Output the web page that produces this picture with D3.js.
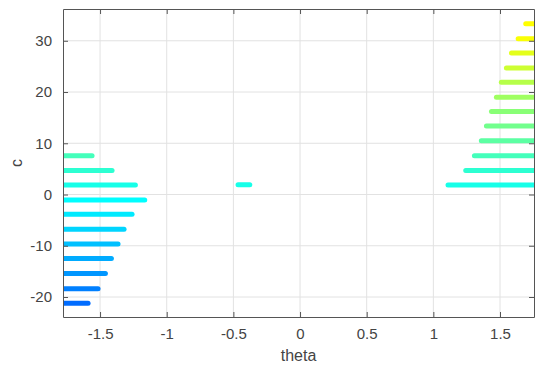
<!DOCTYPE html>
<html lang="en">
<head>
  <meta charset="UTF-8">
  <title>c vs theta</title>
  <script src="https://d3js.org/d3.v7.min.js"></script>
  <style>
    body { margin: 0; background: #fff; }
    svg { display: block; font-family: "Liberation Sans", Arial, sans-serif; }
    .grid line { stroke: #e2e2e2; stroke-width: 1; }
    .axis text { fill: #444; font-size: 15px; }
    .axis path, .axis line { stroke: #555; }
  </style>
</head>
<body>
<svg id="chart" width="536" height="367"></svg>
<script>
  // Values
  const xTicks = [-1.5, -1, -0.5, 0, 0.5, 1, 1.5];
  const yTicks = [-20, -10, 0, 10, 20, 30];

  // left group: segments from the left edge up to an end theta
  const cLeft        = [7.56, 4.7, 1.85, -1.07, -3.86, -6.8, -9.65, -12.5, -15.4, -18.4, -21.2];
  const thetaLeftEnd = [-1.56, -1.41, -1.235, -1.165, -1.26, -1.32, -1.365, -1.415, -1.46, -1.515, -1.59];

  // right group: segments from a start theta out to the right edge
  const cRight          = [33.3, 30.4, 27.6, 24.7, 21.9, 19.0, 16.2, 13.35, 10.5, 7.56, 4.7, 1.85];
  const thetaRightStart = [1.693, 1.636, 1.586, 1.548, 1.51, 1.473, 1.436, 1.398, 1.36, 1.308, 1.243, 1.11];

  // the lone short segment in the middle
  const cMid = [1.9];
  const thetaMid = [[-0.465, -0.377]];

  const width = 536, height = 367;
  const margin = { top: 9, right: 2, bottom: 50, left: 63 };

  const x = d3.scaleLinear()
    .domain([-1.778, 1.755])
    .range([margin.left, width - margin.right]);
  const y = d3.scaleLinear()
    .domain([-23.9, 36.2])
    .range([height - margin.bottom, margin.top]);

  // jet-like colouring by c
  const color = d3.scaleLinear()
    .domain([-36, -1, 31])
    .range(["#0000ff", "#00ffff", "#ffff00"])
    .clamp(true);

  const svg = d3.select("#chart");
  const plain = d => String(d); // hyphen minus, like MATLAB

  svg.append("defs").append("clipPath").attr("id", "plot-clip")
    .append("rect")
    .attr("x", margin.left).attr("y", margin.top)
    .attr("width", x.range()[1] - x.range()[0])
    .attr("height", y.range()[0] - y.range()[1]);

  // grid
  const grid = svg.append("g").attr("class", "grid");
  grid.selectAll(".gx").data(xTicks).join("line")
    .attr("x1", d => x(d)).attr("x2", d => x(d))
    .attr("y1", y.range()[0]).attr("y2", y.range()[1]);
  grid.selectAll(".gy").data(yTicks).join("line")
    .attr("y1", d => y(d)).attr("y2", d => y(d))
    .attr("x1", x.range()[0]).attr("x2", x.range()[1]);

  // segments
  const segs = [];
  cLeft.forEach((c, i) => segs.push({ c, t0: -1.9, t1: thetaLeftEnd[i] }));
  cRight.forEach((c, i) => segs.push({ c, t0: thetaRightStart[i], t1: 1.9 }));
  cMid.forEach((c, i) => segs.push({ c, t0: thetaMid[i][0], t1: thetaMid[i][1] }));

  svg.append("g").attr("clip-path", "url(#plot-clip)")
    .selectAll("line").data(segs).join("line")
    .attr("x1", d => x(d.t0)).attr("x2", d => x(d.t1))
    .attr("y1", d => y(d.c)).attr("y2", d => y(d.c))
    .attr("stroke", d => color(d.c))
    .attr("stroke-width", 5)
    .attr("stroke-linecap", "round");

  // axes, MATLAB style: ticks pointing inward on all four sides
  const tickLen = 5;
  svg.append("g").attr("class", "axis")
    .attr("transform", `translate(0,${y.range()[0]})`)
    .call(d3.axisBottom(x).tickValues(xTicks).tickSizeInner(-tickLen).tickSizeOuter(0).tickPadding(11)
      .tickFormat(plain));
  svg.append("g").attr("class", "axis")
    .attr("transform", `translate(0,${y.range()[1]})`)
    .call(d3.axisTop(x).tickValues(xTicks).tickSizeInner(-tickLen).tickSizeOuter(0).tickFormat(""));
  svg.append("g").attr("class", "axis")
    .attr("transform", `translate(${x.range()[0]},0)`)
    .call(d3.axisLeft(y).tickValues(yTicks).tickSizeInner(-tickLen).tickSizeOuter(0).tickPadding(11)
      .tickFormat(plain));
  svg.append("g").attr("class", "axis")
    .attr("transform", `translate(${x.range()[1]},0)`)
    .call(d3.axisRight(y).tickValues(yTicks).tickSizeInner(-tickLen).tickSizeOuter(0).tickFormat(""));

  // axis labels
  svg.append("text")
    .attr("x", (x.range()[0] + x.range()[1]) / 2)
    .attr("y", 361)
    .attr("text-anchor", "middle")
    .attr("fill", "#444").attr("font-size", 16)
    .text("theta");
  svg.append("text")
    .attr("transform", `translate(22,${(y.range()[0] + y.range()[1]) / 2}) rotate(-90)`)
    .attr("text-anchor", "middle")
    .attr("fill", "#444").attr("font-size", 16)
    .text("c");
</script>
</body>
</html>
